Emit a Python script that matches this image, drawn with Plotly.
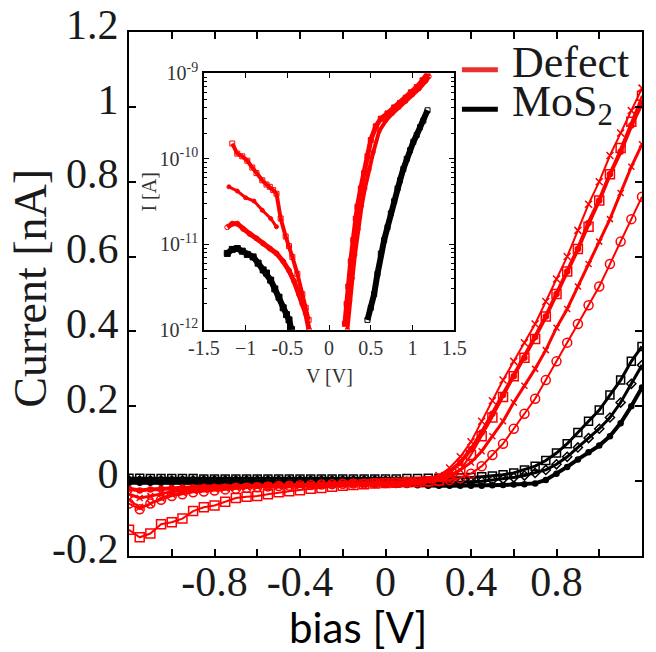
import plotly.graph_objects as go

# ---------------- main plot data (bias in V, current in nA) ----------------
V = [-1.2, -1.15, -1.1, -1.05, -1.0, -0.95, -0.9, -0.85, -0.8, -0.75, -0.7, -0.65,
     -0.6, -0.55, -0.5, -0.45, -0.4, -0.35, -0.3, -0.25, -0.2, -0.15, -0.1, -0.05,
     0.0, 0.05, 0.1, 0.15, 0.2, 0.25, 0.3, 0.35, 0.4, 0.45, 0.5, 0.55, 0.6, 0.65,
     0.7, 0.75, 0.8, 0.85, 0.9, 0.95, 1.0, 1.05, 1.1, 1.15, 1.2]

defect_cross = [-0.05, -0.07, -0.06, -0.045, -0.035, -0.03, -0.025, -0.022, -0.02, -0.018, -0.016, -0.015,
                -0.014, -0.013, -0.012, -0.011, -0.01, -0.009, -0.008, -0.007, -0.006, -0.005, -0.005, -0.004,
                -0.004, -0.003, -0.002, 0.0, 0.005, 0.015, 0.035, 0.065, 0.105, 0.16, 0.215, 0.27, 0.32, 0.37,
                0.42, 0.48, 0.54, 0.60, 0.67, 0.74, 0.80, 0.87, 0.93, 0.99, 1.05]
defect_square = [-0.13, -0.15, -0.14, -0.115, -0.11, -0.10, -0.08, -0.07, -0.065, -0.055, -0.045, -0.042,
                 -0.04, -0.035, -0.03, -0.027, -0.024, -0.02, -0.018, -0.015, -0.012, -0.01, -0.008, -0.006,
                 -0.005, -0.004, -0.003, -0.002, 0.0, 0.002, 0.01, 0.03, 0.07, 0.12, 0.17, 0.225, 0.28, 0.33,
                 0.38, 0.44, 0.50, 0.56, 0.62, 0.68, 0.75, 0.82, 0.89, 0.96, 1.03]
defect_circle = [-0.06, -0.075, -0.06, -0.05, -0.04, -0.035, -0.03, -0.028, -0.025, -0.022, -0.02, -0.018,
                 -0.016, -0.014, -0.013, -0.012, -0.011, -0.01, -0.009, -0.008, -0.007, -0.006, -0.006, -0.005,
                 -0.005, -0.004, -0.004, -0.003, -0.002, 0.0, 0.003, 0.008, 0.02, 0.04, 0.07, 0.10, 0.14, 0.18,
                 0.22, 0.27, 0.32, 0.37, 0.42, 0.47, 0.52, 0.58, 0.64, 0.70, 0.76]
defect_dot = [-0.02, -0.025, -0.022, -0.02, -0.018, -0.017, -0.016, -0.015, -0.015, -0.014, -0.013, -0.013,
              -0.012, -0.012, -0.011, -0.011, -0.01, -0.01, -0.009, -0.009, -0.008, -0.008, -0.007, -0.007,
              -0.006, -0.006, -0.005, -0.003, 0.003, 0.01, 0.025, 0.05, 0.085, 0.13, 0.18, 0.23, 0.28, 0.33,
              0.385, 0.44, 0.50, 0.56, 0.62, 0.69, 0.75, 0.82, 0.88, 0.95, 1.01]
defect_mid = [-0.035, -0.045, -0.04, -0.033, -0.028, -0.025, -0.022, -0.02, -0.018, -0.017, -0.016, -0.015,
              -0.014, -0.013, -0.013, -0.012, -0.012, -0.011, -0.011, -0.01, -0.01, -0.009, -0.009, -0.008,
              -0.008, -0.007, -0.006, -0.004, 0.0, 0.006, 0.015, 0.03, 0.05, 0.08, 0.12, 0.16, 0.21, 0.255,
              0.30, 0.35, 0.41, 0.46, 0.52, 0.58, 0.64, 0.70, 0.77, 0.84, 0.90]

mos2_square = [0.008, 0.008, 0.007, 0.007, 0.007, 0.007, 0.007, 0.006, 0.006, 0.006, 0.006, 0.006,
               0.006, 0.006, 0.006, 0.006, 0.006, 0.006, 0.006, 0.006, 0.006, 0.006, 0.006, 0.006,
               0.006, 0.006, 0.007, 0.007, 0.008, 0.008, 0.009, 0.009, 0.01, 0.012, 0.014, 0.017, 0.022, 0.03,
               0.04, 0.055, 0.075, 0.10, 0.13, 0.16, 0.19, 0.23, 0.27, 0.32, 0.36]
mos2_circle = [0.002, 0.002, 0.002, 0.002, 0.002, 0.002, 0.002, 0.002, 0.002, 0.002, 0.002, 0.002,
               0.002, 0.002, 0.002, 0.002, 0.002, 0.002, 0.002, 0.002, 0.002, 0.002, 0.002, 0.002,
               0.001, 0.0, -0.002, -0.004, -0.005, -0.005, -0.004, -0.003, -0.002, 0.0, 0.003, 0.006, 0.01, 0.015,
               0.022, 0.03, 0.045, 0.065, 0.09, 0.115, 0.14, 0.17, 0.21, 0.26, 0.31]
mos2_dot = [-0.004, -0.004, -0.004, -0.004, -0.004, -0.004, -0.004, -0.004, -0.004, -0.004, -0.004, -0.004,
            -0.004, -0.004, -0.004, -0.004, -0.004, -0.004, -0.004, -0.004, -0.005, -0.006, -0.007, -0.008,
            -0.009, -0.01, -0.01, -0.011, -0.012, -0.012, -0.012, -0.012, -0.012, -0.012, -0.011, -0.01, -0.009, -0.008,
            -0.006, 0.003, 0.02, 0.038, 0.058, 0.077, 0.095, 0.12, 0.155, 0.20, 0.25]

# ---------------- inset data (V in V, |I| in A) ----------------
ins_def_sq_neg_V = [-1.16, -1.10, -1.04, -0.98, -0.92, -0.87, -0.80, -0.75, -0.71, -0.67, -0.63, -0.58,
                    -0.52, -0.48, -0.44, -0.38, -0.32, -0.28, -0.245]
ins_def_sq_neg_I = [1.51e-10, 1.15e-10, 1.07e-10, 9.5e-11, 7.9e-11, 6.8e-11, 5.6e-11, 5.0e-11, 4.7e-11, 4.3e-11,
                    3.9e-11, 2.0e-11, 1.23e-11, 9.5e-12, 7.1e-12, 4.5e-12, 2.6e-12, 1.8e-12, 1.3e-12]
ins_def_dot_neg_V = [-1.2, -1.1, -1.0, -0.9, -0.8, -0.7, -0.63]
ins_def_dot_neg_I = [4.7e-11, 4.2e-11, 3.5e-11, 3.2e-11, 2.5e-11, 2.0e-11, 1.6e-11]
ins_def_ci_neg_V = [-1.22, -1.16, -1.10, -1.03, -0.95, -0.87, -0.79, -0.71, -0.63, -0.55, -0.48, -0.42,
                    -0.36, -0.32, -0.28, -0.24]
ins_def_ci_neg_I = [1.58e-11, 1.74e-11, 1.74e-11, 1.51e-11, 1.32e-11, 1.17e-11, 1.02e-11, 8.9e-12, 7.8e-12,
                    6.3e-12, 4.9e-12, 3.7e-12, 2.6e-12, 2.0e-12, 1.55e-12, 1.0e-12]
ins_def_pos_V = [0.19, 0.21, 0.23, 0.26, 0.29, 0.32, 0.34, 0.38, 0.42, 0.46, 0.50, 0.56, 0.62, 0.70, 0.78,
                 0.85, 0.92, 0.98, 1.05, 1.12, 1.18]
ins_def_pos_I = [1.17e-12, 2.0e-12, 3.2e-12, 6.3e-12, 1.12e-11, 2.0e-11, 2.75e-11, 4.5e-11, 6.8e-11, 1.07e-10,
                 1.66e-10, 2.4e-10, 2.95e-10, 3.4e-10, 4.0e-10, 4.5e-10, 5.2e-10, 6.0e-10, 6.9e-10, 8.3e-10, 1.0e-9]
ins_def_pos2_V = [0.22, 0.25, 0.28, 0.31, 0.35, 0.39, 0.43, 0.48, 0.53, 0.60, 0.68, 0.76, 0.84, 0.92, 1.0,
                  1.08, 1.16, 1.2]
ins_def_pos2_I = [1.0e-12, 2.2e-12, 4.0e-12, 7.5e-12, 1.5e-11, 2.8e-11, 4.5e-11, 7.5e-11, 1.2e-10, 2.1e-10,
                  2.8e-10, 3.4e-10, 4.0e-10, 4.7e-10, 5.6e-10, 6.6e-10, 8.1e-10, 9.2e-10]
ins_mos_neg_V = [-1.22, -1.16, -1.10, -1.04, -0.98, -0.91, -0.85, -0.79, -0.75, -0.70, -0.65, -0.60, -0.55,
                 -0.51, -0.48, -0.45]
ins_mos_neg_I = [7.8e-12, 8.7e-12, 8.9e-12, 8.3e-12, 7.6e-12, 7.1e-12, 6.0e-12, 5.0e-12, 4.6e-12, 3.8e-12,
                 3.0e-12, 2.4e-12, 1.8e-12, 1.5e-12, 1.3e-12, 1.0e-12]
ins_mos_pos_V = [0.46, 0.50, 0.54, 0.58, 0.62, 0.66, 0.70, 0.74, 0.78, 0.82, 0.85, 0.89, 0.93, 0.97, 1.01,
                 1.05, 1.09, 1.13, 1.18]
ins_mos_pos_I = [1.3e-12, 1.8e-12, 2.6e-12, 4.5e-12, 7.8e-12, 1.12e-11, 1.58e-11, 2.3e-11, 3.2e-11, 4.5e-11,
                 5.6e-11, 7.6e-11, 1.0e-10, 1.26e-10, 1.58e-10, 1.9e-10, 2.34e-10, 2.8e-10, 3.7e-10]

x_tickvals = [-1.0, -0.8, -0.6, -0.4, -0.2, 0.0, 0.2, 0.4, 0.6, 0.8, 1.0]
x_ticktext = ["", "-0.8", "", "-0.4", "", "0", "", "0.4", "", "0.8", ""]
y_tickvals = [-0.2, 0.0, 0.2, 0.4, 0.6, 0.8, 1.0, 1.2]
y_ticktext = ["-0.2", "0", "0.2", "0.4", "0.6", "0.8", "1", "1.2"]
ins_x_tickvals = [-1.5, -1.0, -0.5, 0.0, 0.5, 1.0, 1.5]
ins_x_ticktext = ["-1.5", "\u22121", "-0.5", "0", "0.5", "1", "1.5"]
ins_y_tickvals = [1e-12, 1e-11, 1e-10, 1e-9]
ins_y_ticktext = ["10<sup>-12</sup>", "10<sup>-11</sup>", "10<sup>-10</sup>", "10<sup>-9</sup>"]
ins_y_minorvals = [2e-12, 3e-12, 4e-12, 5e-12, 6e-12, 7e-12, 8e-12, 9e-12,
                   2e-11, 3e-11, 4e-11, 5e-11, 6e-11, 7e-11, 8e-11, 9e-11,
                   2e-10, 3e-10, 4e-10, 5e-10, 6e-10, 7e-10, 8e-10, 9e-10]

RED = "#ff0000"
BLACK = "#000000"
SERIF = "Liberation Serif, Times New Roman, Times, serif"

fig = go.Figure()


def add_main(y, color, symbol, size, lw=1.5):
    fig.add_trace(go.Scatter(
        x=V, y=y, mode="lines+markers", showlegend=False,
        line=dict(color=color, width=lw),
        marker=dict(symbol=symbol, size=size, color=color, line=dict(color=color, width=1.5)),
        xaxis="x", yaxis="y"))


add_main(mos2_dot, BLACK, "circle", 5, 4)
add_main(mos2_circle, BLACK, "diamond-open", 7, 3)
add_main(mos2_square, BLACK, "square-open", 8, 3)
add_main(defect_dot, RED, "circle", 5, 4)
add_main(defect_mid, RED, "x-thin-open", 6, 3)
add_main(defect_circle, RED, "circle-open", 9, 2)
add_main(defect_cross, RED, "x-thin-open", 7, 2)
add_main(defect_square, RED, "square-open", 9, 2)


def add_inset(x, y, color, symbol, size, lw=1.5):
    fig.add_trace(go.Scatter(
        x=x, y=y, mode="lines+markers", showlegend=False,
        line=dict(color=color, width=lw),
        marker=dict(symbol=symbol, size=size, color=color, line=dict(color=color, width=1)),
        xaxis="x2", yaxis="y2"))


add_inset(ins_mos_neg_V, ins_mos_neg_I, BLACK, "square", 6, 6)
add_inset(ins_mos_pos_V, ins_mos_pos_I, BLACK, "square-open", 5, 6)
add_inset(ins_def_sq_neg_V, ins_def_sq_neg_I, RED, "square-open", 5, 4)
add_inset(ins_def_dot_neg_V, ins_def_dot_neg_I, RED, "circle", 4, 3)
add_inset(ins_def_ci_neg_V, ins_def_ci_neg_I, RED, "circle-open", 5, 5)
add_inset(ins_def_pos_V, ins_def_pos_I, RED, "square", 5, 5)
add_inset(ins_def_pos2_V, ins_def_pos2_I, RED, "circle-open", 4, 4)

tickfont_main = dict(family=SERIF, size=42, color="#1a1a1a")
tickfont_ins = dict(family=SERIF, size=20, color="#333333")

fig.update_layout(
    width=656, height=652,
    margin=dict(l=129, r=2, t=32, b=96),
    paper_bgcolor="white", plot_bgcolor="white",
    showlegend=False,
    xaxis=dict(range=[-1.2, 1.2], tickvals=x_tickvals, ticktext=x_ticktext,
               ticks="inside", ticklen=7, tickwidth=1.5, tickcolor="black",
               showline=True, linecolor="black", linewidth=2, mirror="ticks",
               showgrid=False, zeroline=False, tickfont=tickfont_main, domain=[0, 1],
               ticklabelstandoff=-12),
    yaxis=dict(range=[-0.2, 1.2], tickvals=y_tickvals, ticktext=y_ticktext,
               ticks="inside", ticklen=7, tickwidth=1.5, tickcolor="black",
               showline=True, linecolor="black", linewidth=2, mirror="ticks",
               showgrid=False, zeroline=False, tickfont=tickfont_main, domain=[0, 1],
               ticklabelshift=-8, ticklabeloverflow="allow"),
    xaxis2=dict(range=[-1.5, 1.5], tickvals=ins_x_tickvals, ticktext=ins_x_ticktext,
                ticks="inside", ticklen=5, tickwidth=1, tickcolor="black",
                showline=True, linecolor="black", linewidth=1.5, mirror="ticks",
                showgrid=False, zeroline=False, tickfont=tickfont_ins,
                domain=[0.146, 0.634], anchor="y2"),
    yaxis2=dict(type="log", range=[-12, -9], tickvals=ins_y_tickvals, ticktext=ins_y_ticktext,
                ticks="inside", ticklen=5, tickwidth=1, tickcolor="black",
                minor=dict(tickvals=ins_y_minorvals, ticks="inside", ticklen=3,
                           tickcolor="black", showgrid=False),
                showline=True, linecolor="black", linewidth=1.5, mirror="ticks",
                showgrid=False, zeroline=False, tickfont=tickfont_ins,
                domain=[0.432, 0.921], anchor="x2"),
)

# axis titles
fig.add_annotation(text="bias [V]", xref="paper", yref="paper", x=0.447, y=-0.135,
                   showarrow=False, font=dict(family="Lato", size=42, color="black"),
                   xanchor="center", yanchor="middle")
fig.add_annotation(text="Current [nA]", xref="paper", yref="paper", x=-0.192, y=0.511,
                   showarrow=False, textangle=-90, font=dict(family=SERIF, size=46, color="#1a1a1a"),
                   xanchor="center", yanchor="middle")
fig.add_annotation(text="I [A]", xref="paper", yref="paper", x=0.0394, y=0.694,
                   showarrow=False, textangle=-90, font=dict(family=SERIF, size=20, color="#333333"),
                   xanchor="center", yanchor="middle")
fig.add_annotation(text="V [V]", xref="paper", yref="paper", x=0.39, y=0.343,
                   showarrow=False, font=dict(family=SERIF, size=20, color="#333333"),
                   xanchor="center", yanchor="middle")

# legend (sample lines + labels)
fig.add_shape(type="line", xref="paper", yref="paper", x0=0.649, x1=0.719, y0=0.928, y1=0.928,
              line=dict(color="#e83030", width=5))
fig.add_shape(type="line", xref="paper", yref="paper", x0=0.649, x1=0.719, y0=0.8525, y1=0.8525,
              line=dict(color="black", width=5))
fig.add_annotation(text="Defect", xref="paper", yref="paper", x=0.742, y=0.942,
                   showarrow=False, font=dict(family=SERIF, size=44, color="#1a1a1a"),
                   xanchor="left", yanchor="middle")
fig.add_annotation(text="MoS<sub>2</sub>", xref="paper", yref="paper", x=0.742, y=0.862,
                   showarrow=False, font=dict(family=SERIF, size=44, color="#1a1a1a"),
                   xanchor="left", yanchor="middle")

fig.write_html("out.html")
